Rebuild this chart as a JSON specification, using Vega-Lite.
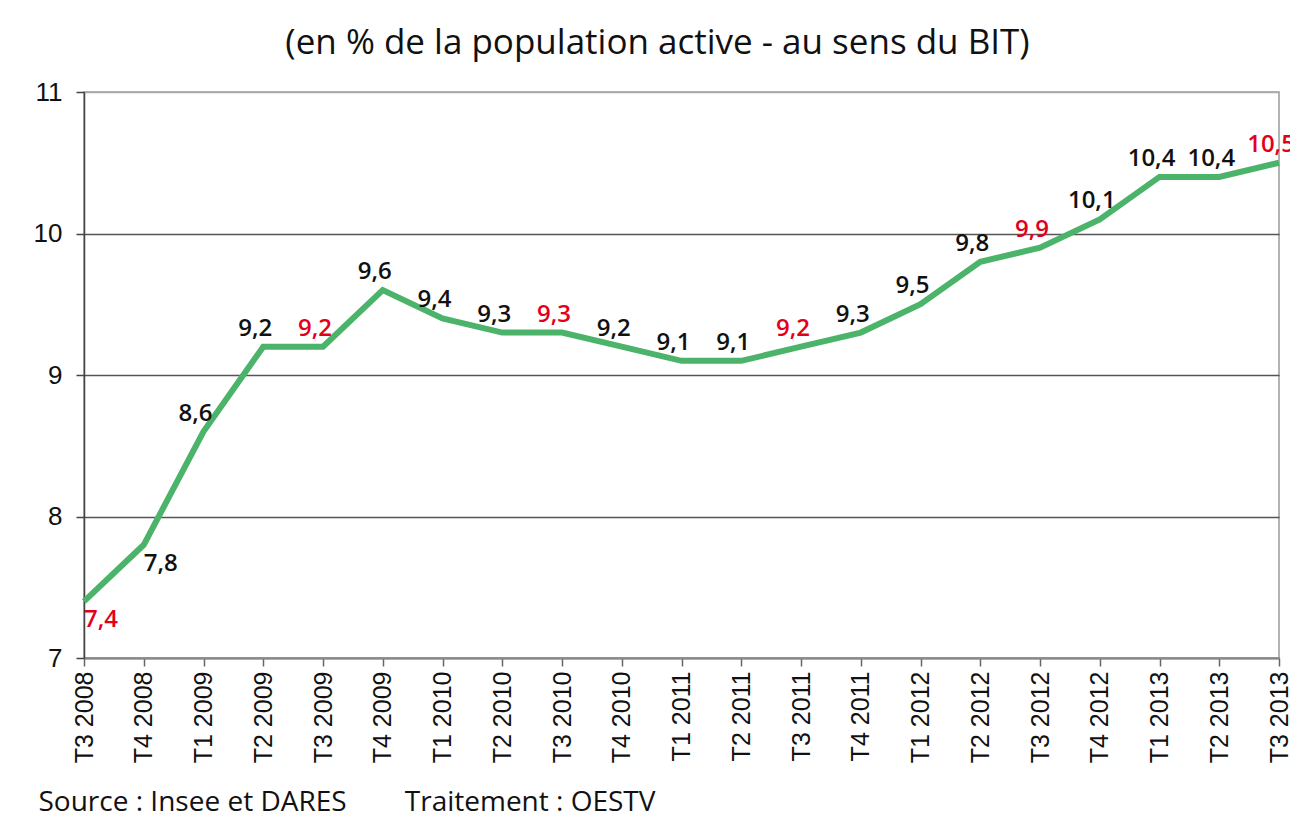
{
  "$schema": "https://vega.github.io/schema/vega-lite/v6.json",
  "width": 1195,
  "height": 566,
  "autosize": "none",
  "padding": {"left": 84, "top": 92, "right": 11, "bottom": 168},
  "background": "white",
  "title": {
    "text": "(en % de la population active - au sens du BIT)",
    "font": "Open Sans",
    "fontSize": 35,
    "fontWeight": "normal",
    "color": "#111",
    "anchor": "middle",
    "dx": -24,
    "offset": 18
  },
  "config": {
    "view": {"stroke": "#999", "strokeWidth": 1.5}
  },
  "data": {
    "values": [
      {"t": "T3 2008", "v": 7.4, "label": "7,4", "q": "T3"},
      {"t": "T4 2008", "v": 7.8, "label": "7,8", "q": "T4"},
      {"t": "T1 2009", "v": 8.6, "label": "8,6", "q": "T1"},
      {"t": "T2 2009", "v": 9.2, "label": "9,2", "q": "T2"},
      {"t": "T3 2009", "v": 9.2, "label": "9,2", "q": "T3"},
      {"t": "T4 2009", "v": 9.6, "label": "9,6", "q": "T4"},
      {"t": "T1 2010", "v": 9.4, "label": "9,4", "q": "T1"},
      {"t": "T2 2010", "v": 9.3, "label": "9,3", "q": "T2"},
      {"t": "T3 2010", "v": 9.3, "label": "9,3", "q": "T3"},
      {"t": "T4 2010", "v": 9.2, "label": "9,2", "q": "T4"},
      {"t": "T1 2011", "v": 9.1, "label": "9,1", "q": "T1"},
      {"t": "T2 2011", "v": 9.1, "label": "9,1", "q": "T2"},
      {"t": "T3 2011", "v": 9.2, "label": "9,2", "q": "T3"},
      {"t": "T4 2011", "v": 9.3, "label": "9,3", "q": "T4"},
      {"t": "T1 2012", "v": 9.5, "label": "9,5", "q": "T1"},
      {"t": "T2 2012", "v": 9.8, "label": "9,8", "q": "T2"},
      {"t": "T3 2012", "v": 9.9, "label": "9,9", "q": "T3"},
      {"t": "T4 2012", "v": 10.1, "label": "10,1", "q": "T4"},
      {"t": "T1 2013", "v": 10.4, "label": "10,4", "q": "T1"},
      {"t": "T2 2013", "v": 10.4, "label": "10,4", "q": "T2"},
      {"t": "T3 2013", "v": 10.5, "label": "10,5", "q": "T3"}
    ]
  },
  "encoding": {
    "x": {
      "field": "t",
      "type": "ordinal",
      "sort": null,
      "scale": {"type": "point", "padding": 0},
      "axis": {
        "title": "Source\u00a0: Insee et DARES\u00a0\u00a0\u00a0\u00a0\u00a0\u00a0\u00a0\u00a0Traitement\u00a0: OESTV",
        "titleFont": "Open Sans",
        "titleFontSize": 28,
        "titleFontWeight": "normal",
        "titleColor": "#111",
        "titleAnchor": "start",
        "titleAlign": "left",
        "titleX": -46,
        "titlePadding": 26,
        "labelAngle": -90,
        "labelFont": "Liberation Sans",
        "labelFontSize": 25,
        "labelColor": "#111",
        "labelPadding": 5,
        "tickSize": 8,
        "tickColor": "#666",
        "tickWidth": 1.5,
        "domainColor": "#888",
        "domainWidth": 2,
        "grid": false
      }
    },
    "y": {
      "field": "v",
      "type": "quantitative",
      "scale": {"domain": [7, 11], "nice": false, "zero": false},
      "axis": {
        "title": null,
        "values": [7, 8, 9, 10, 11],
        "labelFont": "Liberation Sans",
        "labelFontSize": 26,
        "labelColor": "#111",
        "labelPadding": 14,
        "tickSize": 8,
        "tickColor": "#444",
        "tickWidth": 1.5,
        "domainColor": "#444",
        "domainWidth": 1.5,
        "grid": true,
        "gridColor": {"condition": {"test": "datum.value === 11", "value": "#aaa"}, "value": "#555"},
        "gridWidth": 1.5
      }
    }
  },
  "layer": [
    {
      "mark": {"type": "line", "color": "#4cb36a", "strokeWidth": 6, "strokeJoin": "miter"}
    },
    {
      "transform": [{"filter": "datum.t !== 'T3 2008' && datum.t !== 'T4 2008'"}],
      "mark": {"type": "text", "font": "Open Sans", "fontWeight": 600, "fontSize": 24, "align": "center", "baseline": "alphabetic", "dx": -8, "dy": -11},
      "encoding": {
        "text": {"field": "label"},
        "color": {"condition": {"test": "datum.q === 'T3'", "value": "#e3001b"}, "value": "#111"}
      }
    },
    {
      "transform": [{"filter": "datum.t === 'T3 2008' || datum.t === 'T4 2008'"}],
      "mark": {"type": "text", "font": "Open Sans", "fontWeight": 600, "fontSize": 24, "align": "left", "baseline": "alphabetic", "dx": 0, "dy": 26},
      "encoding": {
        "text": {"field": "label"},
        "color": {"condition": {"test": "datum.q === 'T3'", "value": "#e3001b"}, "value": "#111"}
      }
    }
  ]
}
